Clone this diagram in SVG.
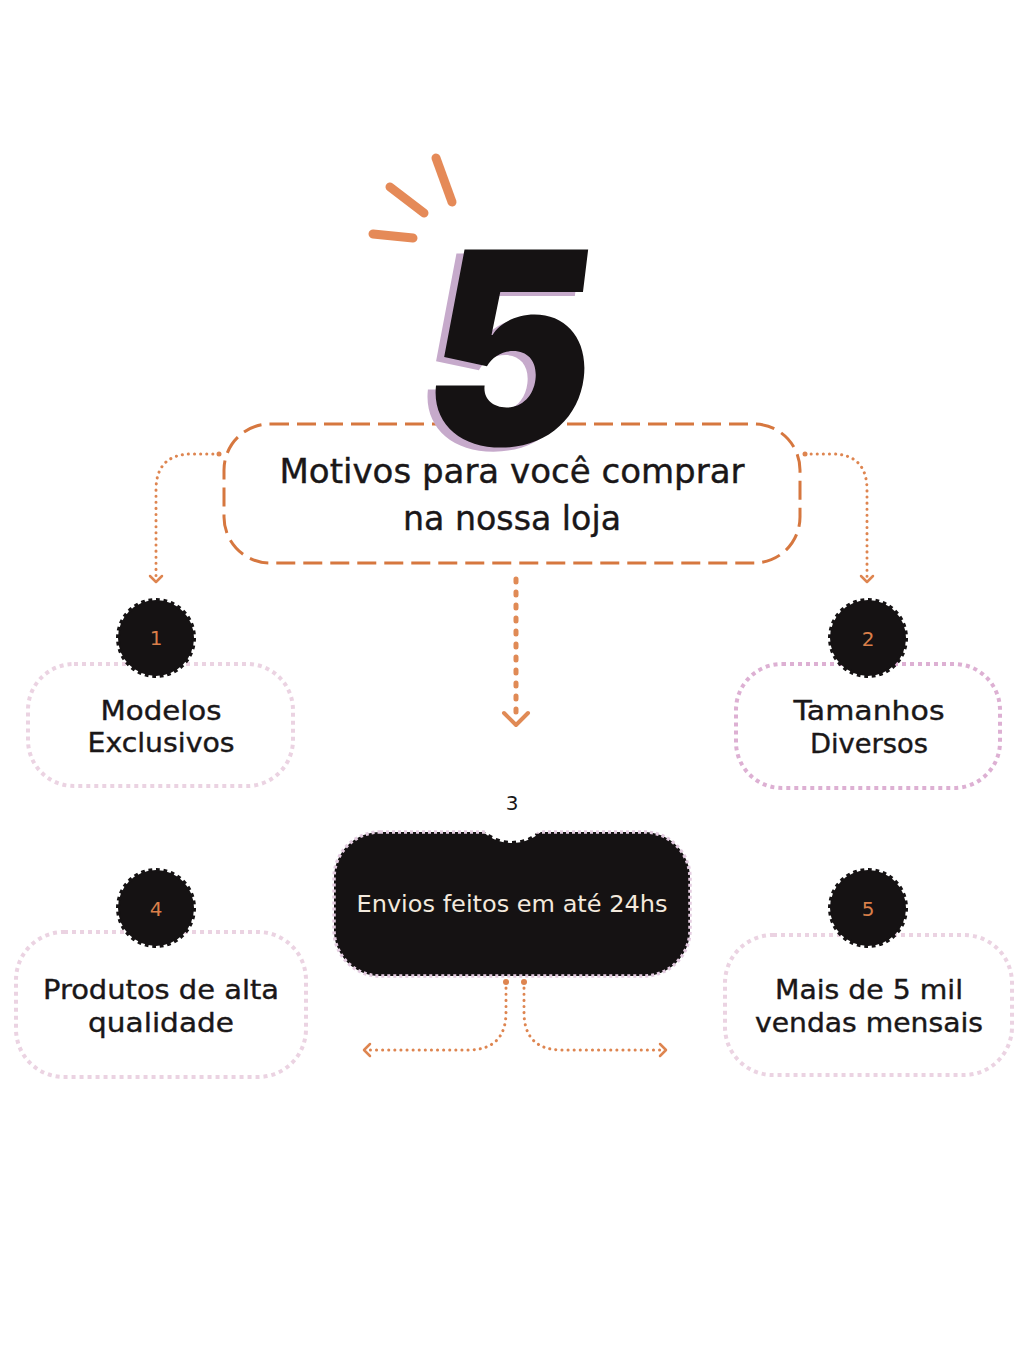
<svg xmlns="http://www.w3.org/2000/svg" width="1024" height="1365" viewBox="0 0 1024 1365">
<style>
.t{font-family:"DejaVu Sans","Noto Sans","Liberation Sans",sans-serif;fill:#1a1718;stroke:#1a1718;stroke-width:0.4;text-anchor:middle}
.num{font-family:"DejaVu Sans","Noto Sans","Liberation Sans",sans-serif;font-size:20px;fill:#D97F4A;text-anchor:middle}
.card{fill:#fff;stroke:#EBD3E2;stroke-width:4;stroke-dasharray:4 4}
.dot{fill:none;stroke:#DE8550;stroke-width:3;stroke-linecap:round;stroke-dasharray:0.1 6}
.chev{fill:none;stroke:#DE8550;stroke-width:2.5;stroke-linecap:round;stroke-linejoin:round}
.spark{stroke:#E58A58;stroke-width:9;stroke-linecap:round}
</style>
<defs>
<g id="burst"><circle r="38" fill="#151213" stroke="#151213" stroke-width="4" pathLength="64" stroke-dasharray="1 1"/></g>
</defs>
<rect width="1024" height="1365" fill="#fff"/>

<g id="sparks">
<line class="spark" x1="436" y1="158" x2="452" y2="202"/>
<line class="spark" x1="390" y1="187" x2="424" y2="213"/>
<line class="spark" x1="373" y1="234" x2="413" y2="238"/>
</g>

<g id="main-node">
<rect x="224" y="424" width="576" height="139" rx="46" fill="#fff" stroke="#D6773F" stroke-width="3" stroke-dasharray="19 8"/>
<g id="big5" transform="translate(500,445) skewX(-7) scale(0.95,1.01)">
<text x="-8" y="4" font-family="Inter,'Liberation Sans',sans-serif" font-weight="900" font-size="266" fill="#C6AACB" text-anchor="middle">5</text>
<text x="0" y="0" font-family="Inter,'Liberation Sans',sans-serif" font-weight="900" font-size="266" fill="#151213" text-anchor="middle">5</text>
</g>
<text class="t" x="512" y="483" font-size="33" textLength="465" lengthAdjust="spacingAndGlyphs">Motivos para você comprar</text>
<text class="t" x="512" y="530" font-size="33" textLength="218" lengthAdjust="spacingAndGlyphs">na nossa loja</text>
</g>

<g id="connectors">
<circle cx="219" cy="454" r="2.5" fill="#DE8550"/>
<path class="dot" d="M219,454 H192 Q156,454 156,490 V580"/>
<path class="chev" d="M150,576 L156,582 L162,576"/>
<circle cx="805" cy="454" r="2.5" fill="#DE8550"/>
<path class="dot" d="M805,454 H832 Q867,454 867,490 V580"/>
<path class="chev" d="M861,576 L867,582 L873,576"/>
<path d="M516,579 V712" fill="none" stroke="#E08A55" stroke-width="5" stroke-linecap="round" stroke-dasharray="3 10"/>
<path d="M504,713 L516,725 L528,713" fill="none" stroke="#E08A55" stroke-width="4" stroke-linecap="round" stroke-linejoin="round"/>
<circle cx="506" cy="982" r="3" fill="#DE8550"/>
<path class="dot" d="M506,982 V1012 Q506,1050 468,1050 H366"/>
<path class="chev" d="M370,1044 L364,1050 L370,1056"/>
<circle cx="524" cy="982" r="3" fill="#DE8550"/>
<path class="dot" d="M524,982 V1012 Q524,1050 562,1050 H664"/>
<path class="chev" d="M660,1044 L666,1050 L660,1056"/>
</g>

<g id="node1">
<rect class="card" x="28" y="664" width="265" height="122" rx="46"/>
<use href="#burst" x="156" y="638"/>
<text class="num" x="156" y="645">1</text>
<text class="t" x="161" y="720" font-size="27" textLength="121" lengthAdjust="spacingAndGlyphs">Modelos</text>
<text class="t" x="161" y="752" font-size="27" textLength="147" lengthAdjust="spacingAndGlyphs">Exclusivos</text>
</g>

<g id="node2">
<rect class="card" x="736" y="664" width="264" height="124" rx="46" style="stroke:#DDB0D3"/>
<use href="#burst" x="868" y="638"/>
<text class="num" x="868" y="646">2</text>
<text class="t" x="869" y="720" font-size="27" textLength="151" lengthAdjust="spacingAndGlyphs">Tamanhos</text>
<text class="t" x="869" y="753" font-size="27" textLength="118" lengthAdjust="spacingAndGlyphs">Diversos</text>
</g>

<g id="node3">
<rect x="334" y="832" width="356" height="144" rx="46" fill="#151213" stroke="#E3CCE0" stroke-width="3.5" stroke-dasharray="3 3"/>
<g transform="translate(512,800)"><circle r="41" fill="#fff" stroke="#fff" stroke-width="4" pathLength="64" stroke-dasharray="1 1"/></g>
<text x="512" y="810" font-family="'DejaVu Sans','Noto Sans',sans-serif" font-size="20" fill="#1a1718" text-anchor="middle">3</text>
<text x="512" y="912" font-family="'DejaVu Sans','Noto Sans',sans-serif" font-size="23" fill="#F3E9DD" text-anchor="middle" textLength="311" lengthAdjust="spacingAndGlyphs">Envios feitos em até 24hs</text>
</g>

<g id="node4">
<rect class="card" x="16" y="932" width="290" height="145" rx="48"/>
<use href="#burst" x="156" y="908"/>
<text class="num" x="156" y="916">4</text>
<text class="t" x="161" y="999" font-size="27" textLength="236" lengthAdjust="spacingAndGlyphs">Produtos de alta</text>
<text class="t" x="161" y="1032" font-size="27" textLength="146" lengthAdjust="spacingAndGlyphs">qualidade</text>
</g>

<g id="node5">
<rect class="card" x="725" y="935" width="287" height="140" rx="48"/>
<use href="#burst" x="868" y="908"/>
<text class="num" x="868" y="916">5</text>
<text class="t" x="869" y="999" font-size="27" textLength="188" lengthAdjust="spacingAndGlyphs">Mais de 5 mil</text>
<text class="t" x="869" y="1032" font-size="27" textLength="228" lengthAdjust="spacingAndGlyphs">vendas mensais</text>
</g>
</svg>
